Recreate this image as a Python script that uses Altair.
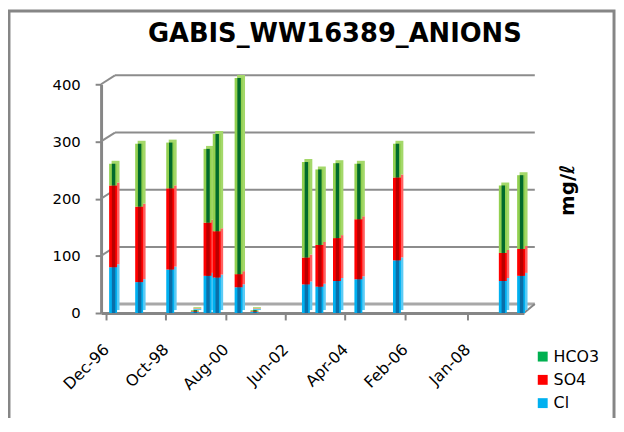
import altair as alt
import pandas as pd

# ---- data ----
dates = ["1997-02-18", "1997-12-07", "1998-11-20", "1999-08-23", "2000-01-12",
         "2000-04-24", "2000-12-25", "2001-06-21", "2003-01-18", "2003-06-18",
         "2004-01-01", "2004-08-28", "2005-11-03", "2009-02-01", "2009-08-25"]
cl   = [80, 54, 76, 2, 65, 62, 45, 2, 50, 46, 56, 59, 92, 56, 65]
so4  = [143, 132, 142, 1, 93, 81, 23, 1, 47, 73, 75, 105, 145, 49, 47]
hco3 = [38, 110, 80, 2, 129, 170, 343, 2, 167, 132, 131, 97, 59, 118, 129]

ions = ["HCO3", "SO4", "Cl"]
light = ["#92D050", "#FF0000", "#00B0F0"]
dark = ["#006A2C", "#B80000", "#0A6EA8"]
back = ["#A4D86A", "#FF6060", "#5CCBF5"]
legend_cols = ["#00B050", "#FF0000", "#00B0F0"]

tick_dates = [(1996, 12), (1998, 10), (2000, 8), (2002, 6), (2004, 4), (2006, 2), (2008, 1)]
y_ticks = [0, 100, 200, 300, 400]
grid_vals = [100, 200, 300, 400]

title_text = "GABIS_WW16389_ANIONS"
y_title = "mg/ℓ"

rows = []
for i, d in enumerate(dates):
    for ion, vals, o in (("Cl", cl, 0), ("SO4", so4, 1), ("HCO3", hco3, 2)):
        rows.append({"date": d, "ion": ion, "value": vals[i], "ord": o})
df = pd.DataFrame(rows)

W, H = 427, 231
AX = "#868686"
FONT = "DejaVu Sans"

xscale = alt.Scale(type="utc", nice=False,
                   domain=[alt.DateTime(year=1996, month=12, date=1, utc=True),
                           alt.DateTime(year=2009, month=8, date=1, utc=True)])
yscale = alt.Scale(domain=[0, 400], nice=False)

xaxis = alt.Axis(values=[alt.DateTime(year=y, month=m, date=1, utc=True) for y, m in tick_dates],
                 format="%b-%y", labelAngle=-45, labelAlign="right", labelBaseline="middle",
                 labelPadding=27, tickSize=7, labelFontSize=16, title=None,
                 labelFlush=False, labelOverlap=False, labelBound=False)
yaxis = alt.Axis(values=y_ticks, tickSize=6, labelPadding=15, labelFontSize=15,
                 title=None, labelFlush=False, labelOverlap=False)

one = pd.DataFrame({"k": [0]})

frame = alt.Chart(one).mark_rect(fillOpacity=0, stroke=AX, strokeWidth=3).encode(
    x=alt.value(-93), x2=alt.value(518), y=alt.value(-74), y2=alt.value(345))

gdf = pd.DataFrame({"value": grid_vals})
grid = alt.Chart(gdf).mark_rule(color="#8C8C8C", strokeWidth=2, yOffset=-9).encode(
    y=alt.Y("value:Q", scale=yscale, axis=yaxis), x=alt.value(14), x2=alt.value(438))
conn = alt.Chart(gdf).mark_rule(color="#8C8C8C", strokeWidth=2, y2Offset=-9).encode(
    y=alt.Y("value:Q", scale=yscale, axis=yaxis), y2="value:Q", x=alt.value(0), x2=alt.value(14))
zdf = pd.DataFrame({"value": [0]})
floor = alt.Chart(zdf).mark_rule(color="#A8A8A8", strokeWidth=3, yOffset=-9).encode(
    y=alt.Y("value:Q", scale=yscale, axis=yaxis), x=alt.value(14), x2=alt.value(438))
floor_r = alt.Chart(zdf).mark_rule(color=AX, strokeWidth=2, y2Offset=-9).encode(
    y=alt.Y("value:Q", scale=yscale, axis=yaxis), y2="value:Q", x=alt.value(427), x2=alt.value(438))

base = alt.Chart(df).encode(
    x=alt.X("date:T", scale=xscale, axis=xaxis),
    y=alt.Y("value:Q", stack="zero", scale=yscale, axis=yaxis),
    order=alt.Order("ord:Q"),
)
bars_back = base.mark_bar(width=8, xOffset=2.5, yOffset=-3, y2Offset=-3).encode(
    color=alt.Color("ion:N", scale=alt.Scale(domain=ions, range=back), legend=None))
bars = base.mark_bar(width=8).encode(
    color=alt.Color("ion:N", scale=alt.Scale(domain=ions, range=light), legend=None))
stripes = base.mark_bar(width=3.5, xOffset=0.5).encode(
    color=alt.Color("ion:N", scale=alt.Scale(domain=ions, range=dark), legend=None))

legend_layer = alt.Chart(df).transform_filter("false").mark_square(size=100, opacity=1).encode(
    x=alt.X("date:T", scale=xscale, axis=xaxis),
    y=alt.Y("value:Q", scale=yscale, axis=yaxis),
    color=alt.Color("ion:N", scale=alt.Scale(domain=ions, range=legend_cols),
                    legend=alt.Legend(title=None, orient="none", legendX=438, legendY=267,
                                      symbolType="square", symbolSize=100, labelFontSize=16,
                                      labelFont=FONT, labelColor="black", rowPadding=7.5,
                                      labelOffset=3, padding=0, symbolStrokeWidth=0)))

ytitle = alt.Chart(pd.DataFrame({"t": [y_title]})).mark_text(
    angle=270, font=FONT, fontSize=20, fontWeight="bold", color="black",
    align="center", baseline="middle").encode(
    text="t:N", x=alt.value(472), y=alt.value(107))
title = alt.Chart(pd.DataFrame({"t": [title_text]})).mark_text(
    font=FONT, fontSize=26, fontWeight="bold", color="black",
    align="center", baseline="alphabetic").encode(
    text="t:N", x=alt.value(236), y=alt.value(-43))

chart = alt.layer(frame, grid, conn, floor, floor_r, bars_back, bars, stripes, legend_layer,
                  ytitle, title).resolve_scale(
    color="independent"
).properties(
    width=W, height=H,
    autosize=alt.AutoSizeParams(type="none"),
    padding={"left": 94, "top": 75, "right": 93, "bottom": 104},
    background="white",
).configure_view(stroke=None).configure_axis(
    grid=False, domainColor=AX, domainWidth=3, tickColor=AX, tickWidth=2,
    labelColor="black", labelFont=FONT,
)

chart.save("out.html", embed_options={"renderer": "svg", "actions": False})
